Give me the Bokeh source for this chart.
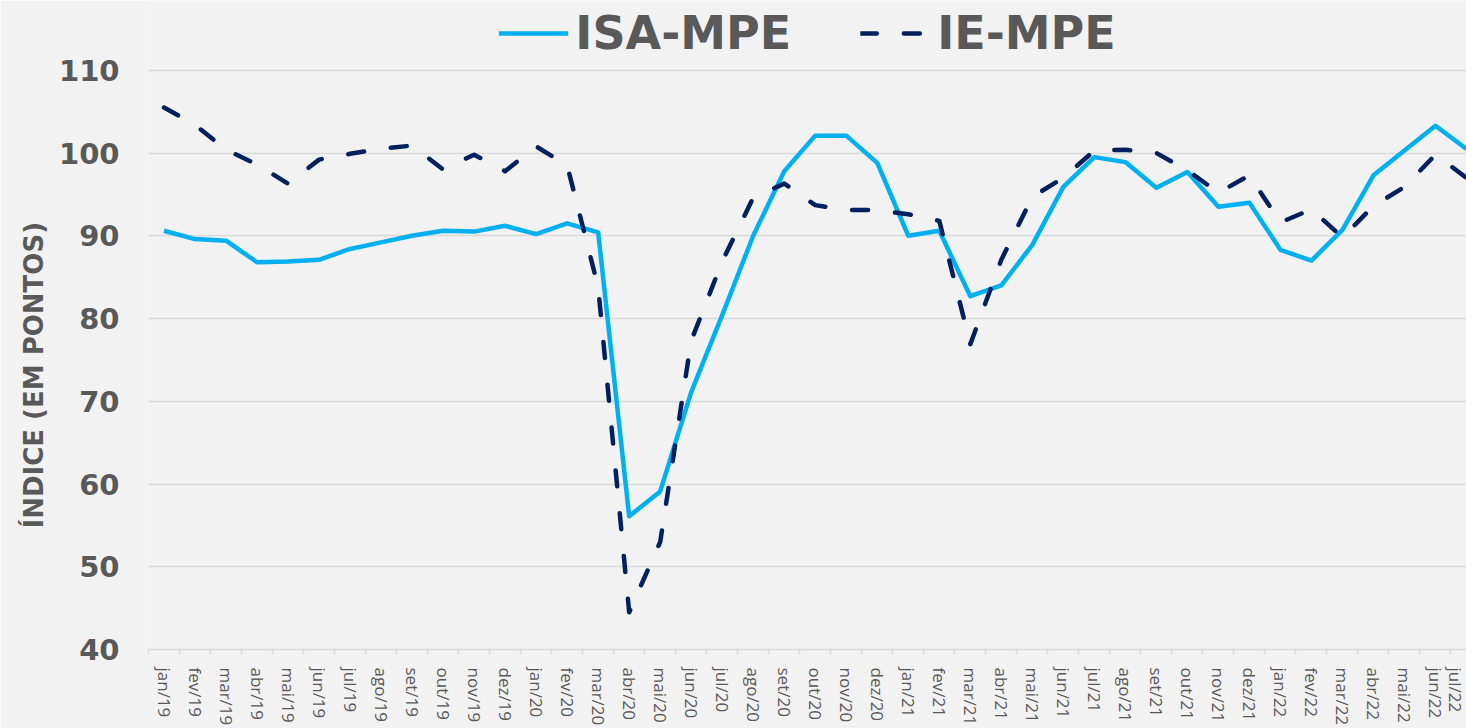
from bokeh.plotting import figure
from bokeh.models import Range1d, FixedTicker, Legend, LegendItem, Title
from bokeh.embed import file_html
from bokeh.resources import INLINE

months = ["jan/19", "fev/19", "mar/19", "abr/19", "mai/19", "jun/19", "jul/19", "ago/19",
          "set/19", "out/19", "nov/19", "dez/19", "jan/20", "fev/20", "mar/20", "abr/20",
          "mai/20", "jun/20", "jul/20", "ago/20", "set/20", "out/20", "nov/20", "dez/20",
          "jan/21", "fev/21", "mar/21", "abr/21", "mai/21", "jun/21", "jul/21", "ago/21",
          "set/21", "out/21", "nov/21", "dez/21", "jan/22", "fev/22", "mar/22", "abr/22",
          "mai/22", "jun/22", "jul/22"]

isa_mpe = [90.6, 89.6, 89.4, 86.8, 86.9, 87.1, 88.4, 89.2, 90.0, 90.6, 90.5, 91.2,
           90.2, 91.5, 90.4, 56.1, 59.1, 71.1, 80.4, 90.0, 97.8, 102.1, 102.1, 98.8,
           90.0, 90.6, 82.7, 84.0, 88.9, 95.9, 99.5, 98.9, 95.8, 97.7, 93.5, 94.0,
           88.3, 87.0, 90.7, 97.3, 100.3, 103.3, 100.5]

ie_mpe = [105.5, 103.4, 100.4, 98.6, 96.3, 99.2, 99.9, 100.5, 100.9, 98.0, 99.8, 97.8,
          100.8, 98.5, 83.8, 44.5, 53.0, 77.3, 86.9, 94.6, 96.3, 93.7, 93.1, 93.1,
          92.6, 91.8, 76.9, 87.1, 94.7, 97.0, 100.3, 100.4, 100.0, 97.9, 95.2, 97.3,
          91.6, 93.2, 89.8, 93.6, 95.9, 99.8, 97.0]

y_ticks = [40, 50, 60, 70, 80, 90, 100, 110]
series_names = ["ISA-MPE", "IE-MPE"]
y_label = "ÍNDICE (EM PONTOS)"

BG = "#F2F2F2"
GRID = "#D9D9D9"
TXT = "#595959"

x = list(range(len(months)))

# frame is 651 px tall at 8.3 px per unit; the space above 110 holds the legend
p = figure(width=1466, height=728,
           x_range=Range1d(-0.5, 42.0), y_range=Range1d(40, 118.43),
           output_backend="svg", toolbar_location=None,
           background_fill_color=BG, border_fill_color=BG,
           min_border_left=148, min_border_right=0,
           min_border_top=0, min_border_bottom=77)
p.outline_line_color = None

r1 = p.line(x, isa_mpe, line_color="#00B0F0", line_width=4.5, line_join="round")
r2 = p.line(x, ie_mpe, line_color="#002060", line_width=4.5, line_dash="16 27",
            line_cap="round", line_join="round")

legend = Legend(items=[LegendItem(label=series_names[0], renderers=[r1]),
                       LegendItem(label=series_names[1], renderers=[r2])],
                orientation="horizontal", location="top_center",
                glyph_width=70, glyph_height=20, label_standoff=7, spacing=69,
                padding=0, margin=6, border_line_color=None,
                background_fill_alpha=0,
                label_text_font="DejaVu Sans", label_text_font_style="bold",
                label_text_font_size="46px", label_text_color=TXT)
p.add_layout(legend)

# y axis
p.yaxis.ticker = y_ticks
p.yaxis.axis_line_color = None
p.yaxis.major_tick_line_color = None
p.yaxis.minor_tick_line_color = None
p.yaxis.major_label_text_font = "DejaVu Sans"
p.yaxis.major_label_text_font_style = "bold"
p.yaxis.major_label_text_font_size = "29px"
p.yaxis.major_label_text_color = TXT
p.yaxis.major_label_standoff = 23

ylab = Title(text=y_label, align="left", offset=121, standoff=14,
             text_font="DejaVu Sans", text_font_style="bold",
             text_font_size="26px", text_color=TXT)
p.add_layout(ylab, "left")

p.ygrid.grid_line_color = GRID
p.ygrid.grid_line_width = 1.5
p.xgrid.grid_line_color = None

# x axis
p.xaxis.ticker = FixedTicker(ticks=x, minor_ticks=[i - 0.5 for i in range(len(months) + 1)])
p.xaxis.major_label_overrides = {i: m for i, m in enumerate(months)}
p.xaxis.major_label_orientation = "vertical"
p.xaxis.major_tick_line_color = None
p.xaxis.major_tick_out = 0
p.xaxis.major_tick_in = 0
p.xaxis.minor_tick_line_color = GRID
p.xaxis.minor_tick_line_width = 1.5
p.xaxis.minor_tick_out = 5
p.xaxis.minor_tick_in = 0
p.xaxis.axis_line_color = GRID
p.xaxis.axis_line_width = 1.5
p.xaxis.major_label_text_font = "Open Sans"
p.xaxis.major_label_text_font_size = "17px"
p.xaxis.major_label_text_color = TXT
p.xaxis.major_label_standoff = 13

open("out.html", "w").write(file_html(p, INLINE))
